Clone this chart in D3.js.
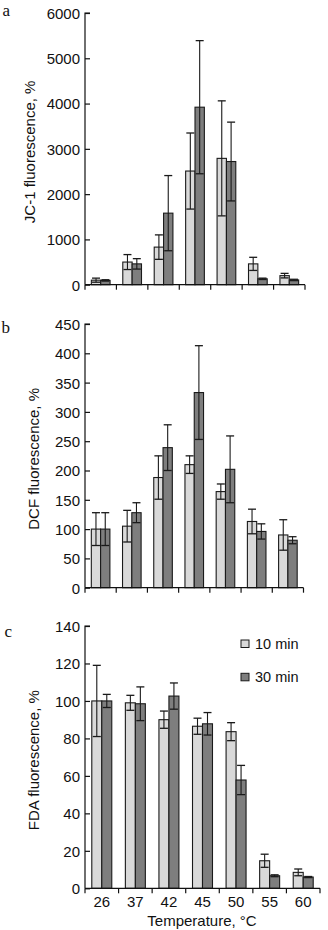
<!DOCTYPE html>
<html><head><meta charset="utf-8">
<script src="https://cdn.jsdelivr.net/npm/d3@7"></script>
<style>
html,body{margin:0;padding:0;background:#fff;}
svg{display:block;}
text{font-family:"Liberation Sans",Arial,Helvetica,sans-serif;fill:#111;}
</style></head>
<body>
<script>
// ---- data ----
const categories = ["26","37","42","45","50","55","60"];
const seriesNames = ["10 min","30 min"];
const jc1_10 = [100, 500, 830, 2510, 2790, 460, 200];
const jc1_10_err = [45, 165, 270, 840, 1270, 145, 50];
const jc1_30 = [95, 460, 1580, 3920, 2720, 130, 105];
const jc1_30_err = [15, 115, 830, 1470, 870, 15, 15];
const dcf_10 = [100, 105, 188, 210, 164, 113, 90];
const dcf_10_err = [28, 27, 37, 15, 13, 21, 26];
const dcf_30 = [100, 128, 239, 333, 202, 96, 81];
const dcf_30_err = [28, 17, 39, 80, 57, 13, 6];
const fda_10 = [100, 99, 90, 86.5, 83.6, 14.7, 8.5];
const fda_10_err = [19, 4, 4.6, 4.3, 4.8, 3.5, 1.8];
const fda_30 = [100, 98.5, 102.6, 87.8, 57.8, 6.7, 6];
const fda_30_err = [3.5, 9, 7, 6, 7.8, 0.5, 0.3];
const jc1Ticks = [0,1000,2000,3000,4000,5000,6000];
const dcfTicks = [0,50,100,150,200,250,300,350,400,450];
const fdaTicks = [0,20,40,60,80,100,120,140];

const colors = ["#d9d9d9", "#7e7e7e"];

const svg = d3.select("body").append("svg").attr("width",328).attr("height",930);

function panel(o){
  const x0 = d3.scaleBand().domain(categories).range([o.left, o.right]).padding(0);
  const x1 = d3.scaleBand().domain(seriesNames).range([0, x0.bandwidth()]).paddingInner(0).paddingOuter(0.68);
  const y = d3.scaleLinear().domain(o.domain).range([o.bottom, o.top]);
  const g = svg.append("g");

  // bars
  const rows = [];
  categories.forEach((c,i)=>{
    rows.push({c, s:seriesNames[0], v:o.a[i], e:o.ae[i], k:0});
    rows.push({c, s:seriesNames[1], v:o.b[i], e:o.be[i], k:1});
  });
  g.selectAll("rect.bar").data(rows).join("rect")
    .attr("x", d=>x0(d.c)+x1(d.s))
    .attr("y", d=>y(d.v))
    .attr("width", x1.bandwidth())
    .attr("height", d=>y(0)-y(d.v))
    .attr("fill", d=>colors[d.k])
    .attr("stroke","#1a1a1a").attr("stroke-width",1.1);

  // error bars
  const capW = 8;
  rows.forEach(d=>{
    const cx = x0(d.c)+x1(d.s)+x1.bandwidth()/2;
    const lo = Math.max(0, d.v-d.e), hi = d.v+d.e;
    g.append("line").attr("x1",cx).attr("x2",cx).attr("y1",y(lo)).attr("y2",y(hi))
      .attr("stroke","#1a1a1a").attr("stroke-width",1.1);
    [lo,hi].forEach(v=>{
      g.append("line").attr("x1",cx-capW/2).attr("x2",cx+capW/2).attr("y1",y(v)).attr("y2",y(v))
        .attr("stroke","#1a1a1a").attr("stroke-width",1.3);
    });
  });

  // y axis (ticks pointing inward)
  const ya = d3.axisRight(y).tickValues(o.ticks).tickSize(5).tickFormat(d3.format("d"));
  const yg = g.append("g").attr("transform",`translate(${o.left},0)`).call(ya);
  yg.select(".domain").attr("d",`M${5},${o.top}H0V${o.bottom}`).attr("stroke","#111").attr("stroke-width",1.2);
  yg.selectAll(".tick line").attr("stroke","#111").attr("stroke-width",1.2);
  yg.selectAll(".tick text").attr("x",-5).attr("text-anchor","end").attr("dy","0.36em")
    .style("font-size","15px").style("font-family","'Liberation Sans',Arial,sans-serif").attr("fill","#111");

  // x axis: boundaries tick marks
  const xg = g.append("g");
  xg.append("line").attr("x1",o.left).attr("x2",o.right).attr("y1",o.bottom).attr("y2",o.bottom)
    .attr("stroke","#111").attr("stroke-width",1.2);
  const bounds = categories.map(c=>x0(c)).concat([x0(categories[categories.length-1])+x0.bandwidth()]);
  xg.selectAll("line.b").data(bounds).join("line").attr("class","b")
    .attr("x1",d=>d).attr("x2",d=>d).attr("y1",o.bottom).attr("y2",o.bottom+5)
    .attr("stroke","#111").attr("stroke-width",1.2);
  if(o.xlabels){
    xg.selectAll("text.xl").data(categories).join("text").attr("class","xl")
      .attr("x",d=>x0(d)+x0.bandwidth()/2).attr("y",o.bottom+18.5)
      .attr("text-anchor","middle").style("font-size","15px").text(d=>d);
  }
  // y label
  g.append("text").attr("transform",`translate(${o.ylx},${(o.top+o.bottom)/2+3}) rotate(-90)`)
    .attr("text-anchor","middle").style("font-size","15px").text(o.ylabel);
  // panel letter
  g.append("text").attr("x",o.lx).attr("y",o.ly).style("font-family","'Liberation Serif','Times New Roman',serif")
    .style("font-size","17px").text(o.letter);
  return {x0,x1,y};
}

panel({left:85,right:305,top:13,bottom:284.7,domain:[0,6000],ticks:jc1Ticks,
  a:jc1_10,ae:jc1_10_err,b:jc1_30,be:jc1_30_err,ylabel:"JC-1 fluorescence, %",ylx:35,letter:"a",lx:2.5,ly:15.5});
panel({left:85,right:303.5,top:324,bottom:587.7,domain:[0,450],ticks:dcfTicks,
  a:dcf_10,ae:dcf_10_err,b:dcf_30,be:dcf_30_err,ylabel:"DCF fluorescence, %",ylx:39,letter:"b",lx:1.5,ly:333});
panel({left:85,right:320,top:626,bottom:888.3,domain:[0,140],ticks:fdaTicks,
  a:fda_10,ae:fda_10_err,b:fda_30,be:fda_30_err,ylabel:"FDA fluorescence, %",ylx:39,letter:"c",lx:4.5,ly:637,xlabels:true});

// x label
svg.append("text").attr("x",202).attr("y",926).attr("text-anchor","middle").style("font-size","15px").text("Temperature, \u00B0C");

// legend
const leg = svg.append("g");
seriesNames.forEach((s,i)=>{
  const yy = 640 + i*33.3;
  leg.append("rect").attr("x",241).attr("y",yy).attr("width",8).attr("height",7.5)
    .attr("fill",colors[i]).attr("stroke","#1a1a1a").attr("stroke-width",1);
  leg.append("text").attr("x",255).attr("y",yy+8.5).style("font-size","14.5px").text(s);
});
</script>
</body></html>
